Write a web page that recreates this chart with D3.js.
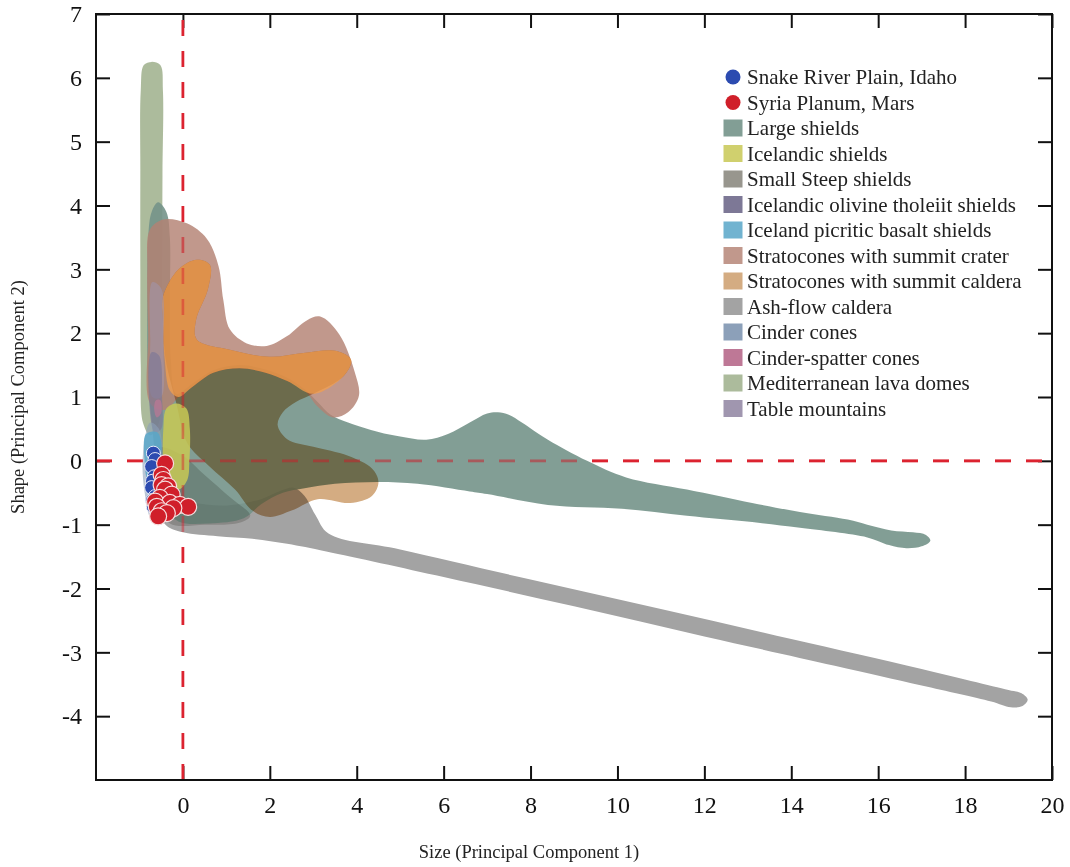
<!DOCTYPE html>
<html>
<head>
<meta charset="utf-8">
<script src="https://cdn.jsdelivr.net/npm/d3@7/dist/d3.min.js"></script>
<style>
  html, body { margin: 0; padding: 0; background: #fff; }
  svg { display: block; }
  text { font-family: "Liberation Serif", "Times New Roman", serif; }
</style>
</head>
<body>
<svg id="chart" width="1070" height="867"></svg>
<script>
// Axis ticks
const xTicks = [0, 2, 4, 6, 8, 10, 12, 14, 16, 18, 20];
const yTicks = [-4, -3, -2, -1, 0, 1, 2, 3, 4, 5, 6, 7];

// Volcano-type fields in (size PC1, shape PC2) space: outline vertices
const ashFlowCaldera = [
  [-0.55, -0.75], [-0.4, -1.0], [0.0, -1.12], [0.8, -1.18], [1.6, -1.22], [2.4, -1.3],
  [3.3, -1.42], [6.0, -1.82], [9.0, -2.28], [12.0, -2.75], [15.0, -3.21], [17.0, -3.52],
  [18.6, -3.77], [19.05, -3.86], [19.32, -3.84], [19.44, -3.74], [19.3, -3.64], [19.0, -3.59],
  [17.0, -3.26], [14.0, -2.79], [11.0, -2.32], [8.0, -1.86], [5.0, -1.39], [3.35, -1.14],
  [3.05, -0.85], [2.8, -0.55], [2.55, -0.42], [2.25, -0.47], [1.8, -0.6], [1.0, -0.7],
  [0.2, -0.65], [-0.3, -0.55]
];
const largeShields = [
  [-0.57, 4.05], [-0.38, 3.9], [-0.3, 3.5], [-0.3, 2.5], [-0.28, 1.6], [-0.15, 1.05],
  [0.2, 1.2], [0.7, 1.42], [1.3, 1.5], [1.9, 1.43], [2.4, 1.3], [2.8, 1.12], [3.1, 0.92],
  [3.4, 0.72], [3.8, 0.6], [4.5, 0.45], [5.0, 0.38], [5.6, 0.33], [6.1, 0.42], [6.6, 0.6],
  [7.0, 0.74], [7.25, 0.76], [7.5, 0.72], [7.8, 0.6], [8.4, 0.33], [9.3, 0.0], [10.2, -0.26],
  [11.6, -0.45], [13.1, -0.66], [14.2, -0.8], [15.3, -0.92], [15.75, -1.0], [16.3, -1.09],
  [16.8, -1.12], [17.1, -1.16], [17.2, -1.25], [17.0, -1.34], [16.65, -1.37], [16.25, -1.32],
  [15.75, -1.2], [14.2, -1.05], [13.1, -0.96], [11.6, -0.86], [10.1, -0.75], [8.4, -0.69],
  [7.0, -0.52], [6.6, -0.48], [5.4, -0.36], [4.5, -0.33], [3.5, -0.36], [2.8, -0.43],
  [2.3, -0.5], [1.8, -0.68], [1.4, -0.9], [0.6, -0.98], [-0.1, -0.95], [-0.45, -0.7],
  [-0.6, -0.2], [-0.7, 0.5], [-0.8, 1.2], [-0.82, 2.5], [-0.8, 3.5], [-0.72, 3.9]
];
const mediterraneanLavaDomes = [
  [-0.72, 6.25], [-0.52, 6.2], [-0.46, 5.8], [-0.47, 4.5], [-0.48, 3.0], [-0.5, 1.5],
  [-0.55, 0.6], [-0.75, 0.4], [-0.92, 0.6], [-0.97, 1.5], [-0.98, 3.0], [-0.98, 4.5],
  [-0.97, 5.8], [-0.9, 6.2]
];
const tableMountains = [
  [-0.7, 2.8], [-0.5, 2.7], [-0.45, 1.8], [-0.5, 1.0], [-0.7, 1.0], [-0.75, 1.9]
];
const icelandicOlivineTholeiitShields = [
  [-0.72, 1.7], [-0.55, 1.65], [-0.48, 1.0], [-0.5, 0.5], [-0.65, 0.45], [-0.78, 1.0]
];
const stratoconesSummitCrater = [
  [-0.76, 3.62], [-0.45, 3.78], [0.09, 3.72], [0.55, 3.48], [0.82, 3.05], [0.93, 2.52],
  [1.08, 2.06], [1.47, 1.84], [1.93, 1.8], [2.39, 1.95], [2.85, 2.2], [3.16, 2.26],
  [3.6, 1.98], [3.95, 1.4], [4.05, 1.02], [3.8, 0.76], [3.45, 0.68], [3.1, 0.85],
  [2.8, 1.1], [2.4, 1.25], [1.9, 1.38], [1.3, 1.45], [0.7, 1.38], [0.2, 1.15],
  [-0.1, 1.0], [-0.4, 0.8], [-0.75, 0.9], [-0.8, 2.0], [-0.82, 3.0]
];
const smallSteepShields = [
  [-0.6, 0.2], [-0.05, 0.1], [0.5, -0.22], [1.1, -0.58], [1.55, -0.86], [1.3, -0.97],
  [0.5, -1.0], [-0.3, -0.98], [-0.6, -0.6]
];
const stratoconesSummitCaldera = [
  [-0.46, 2.57], [-0.1, 3.0], [0.32, 3.15], [0.62, 3.07], [0.58, 2.7], [0.3, 2.2],
  [0.32, 1.9], [1.08, 1.74], [2.0, 1.63], [2.77, 1.69], [3.54, 1.72], [3.87, 1.58],
  [3.7, 1.33], [3.0, 1.05], [2.6, 0.92], [2.3, 0.76], [2.18, 0.56], [2.4, 0.34],
  [3.0, 0.22], [3.8, 0.08], [4.35, -0.12], [4.5, -0.33], [4.35, -0.55], [3.85, -0.66],
  [3.1, -0.6], [2.5, -0.78], [2.0, -0.88], [1.6, -0.78], [1.2, -0.45], [0.6, -0.08],
  [0.1, 0.28], [-0.15, 0.9], [-0.4, 1.6], [-0.46, 2.2]
];
const stratoconesSummitCalderaUpper = [
  [-0.46, 2.57], [-0.1, 3.0], [0.32, 3.15], [0.62, 3.07], [0.58, 2.7], [0.3, 2.2],
  [0.32, 1.9], [1.08, 1.74], [2.0, 1.63], [2.77, 1.69], [3.54, 1.72], [3.87, 1.58],
  [3.7, 1.33], [3.0, 1.05], [2.4, 1.25], [1.9, 1.38], [1.3, 1.45], [0.7, 1.38],
  [0.2, 1.15], [-0.1, 1.0], [-0.3, 1.1], [-0.42, 1.6], [-0.46, 2.2]
];
const cinderCones = [
  [-0.75, 0.6], [-0.55, 0.5], [-0.45, 0.0], [-0.35, -0.6], [-0.45, -0.98], [-0.7, -0.95],
  [-0.88, -0.5], [-0.92, 0.1]
];
const cinderSpatterCones = [
  [-0.62, 0.95], [-0.52, 0.95], [-0.5, 0.75], [-0.6, 0.68], [-0.66, 0.8]
];
const icelandPicriticBasaltShields = [
  [-0.85, 0.42], [-0.6, 0.45], [-0.5, 0.3], [-0.52, 0.0], [-0.6, -0.3], [-0.8, -0.3], [-0.88, 0.0]
];
const icelandicShields = [
  [-0.15, 0.9], [0.08, 0.82], [0.16, 0.5], [0.15, 0.0], [0.1, -0.3], [-0.1, -0.45],
  [-0.35, -0.35], [-0.45, 0.0], [-0.45, 0.5], [-0.38, 0.82]
];

// Measured volcanoes
const snakeRiverPlain = [
  [-0.68, 0.12], [-0.64, 0.02], [-0.72, -0.09], [-0.66, -0.25], [-0.7, -0.32], [-0.72, -0.42],
  [-0.64, -0.56], [-0.7, -0.62], [-0.68, -0.72], [-0.6, -0.87]
];
const syriaPlanum = [
  [-0.41, -0.04], [-0.49, -0.22], [-0.45, -0.3], [-0.49, -0.38], [-0.34, -0.4], [-0.41, -0.45],
  [-0.26, -0.53], [-0.53, -0.58], [-0.64, -0.64], [-0.3, -0.66], [-0.07, -0.69], [-0.6, -0.72],
  [0.12, -0.72], [-0.22, -0.74], [-0.49, -0.79], [-0.37, -0.82], [-0.57, -0.87]
];

// Legend entries
const legendLabels = [
  "Snake River Plain, Idaho", "Syria Planum, Mars", "Large shields", "Icelandic shields",
  "Small Steep shields", "Icelandic olivine tholeiit shields", "Iceland picritic basalt shields",
  "Stratocones with summit crater", "Stratocones with summit caldera", "Ash-flow caldera",
  "Cinder cones", "Cinder-spatter cones", "Mediterranean lava domes", "Table mountains"
];

// ---- styles ----
const colors = {
  "Snake River Plain, Idaho": "#2c4bb0",
  "Syria Planum, Mars": "#d01f2a",
  "Large shields": "#74948a",
  "Icelandic shields": "#c8c855",
  "Small Steep shields": "#98968e",
  "Icelandic olivine tholeiit shields": "#7d7896",
  "Iceland picritic basalt shields": "#58a6c8",
  "Stratocones with summit crater": "#b38173",
  "Stratocones with summit caldera": "#d4ac82",
  "Ash-flow caldera": "#a3a3a3",
  "Cinder cones": "#8ca0b9",
  "Cinder-spatter cones": "#be7896",
  "Mediterranean lava domes": "#a5b594",
  "Table mountains": "#a096af"
};

// drawing order, back to front
const fields = [
  { name: "Ash-flow caldera", pts: ashFlowCaldera, blend: "normal", op: 1 },
  { name: "Mediterranean lava domes", pts: mediterraneanLavaDomes, blend: "normal", op: 0.92 },
  { name: "Large shields", pts: largeShields, blend: "normal", op: 0.9 },
  { name: "Small Steep shields", pts: smallSteepShields, blend: "multiply", op: 0.4 },
  { name: "Stratocones with summit crater", pts: stratoconesSummitCrater, blend: "normal", op: 0.82 },
  { name: "Stratocones with summit caldera", pts: stratoconesSummitCaldera, blend: "multiply", op: 1 },
  { name: "Stratocones with summit caldera", pts: stratoconesSummitCalderaUpper, blend: "normal", op: 0.75, fill: "#f39f4c" },
  { name: "Table mountains", pts: tableMountains, blend: "normal", op: 0.55 },
  { name: "Icelandic olivine tholeiit shields", pts: icelandicOlivineTholeiitShields, blend: "normal", op: 0.65 },
  { name: "Cinder cones", pts: cinderCones, blend: "normal", op: 0.6 },
  { name: "Cinder-spatter cones", pts: cinderSpatterCones, blend: "normal", op: 0.7 },
  { name: "Iceland picritic basalt shields", pts: icelandPicriticBasaltShields, blend: "normal", op: 0.85 },
  { name: "Icelandic shields", pts: icelandicShields, blend: "normal", op: 0.85 }
];
// legend swatch opacity: translucent fields keep their own opacity, faint ones show full colour
const swatchOpacity = {};
fields.forEach(f => { if (!(f.name in swatchOpacity)) swatchOpacity[f.name] = f.op >= 0.8 ? f.op : 1; });

const svg = d3.select("#chart");
const W = 1070, H = 867;
const x = d3.scaleLinear().domain([-2, 20]).range([96, 1052]);
const y = d3.scaleLinear().domain([-5, 7]).range([780, 14]);

svg.append("rect").attr("width", W).attr("height", H).attr("fill", "#fff");

// axes with inward ticks
const tickLen = 14;
const axisStyle = g => {
  g.select(".domain").remove();
  g.selectAll(".tick line").attr("stroke", "#111").attr("stroke-width", 2);
  g.selectAll(".tick text").attr("fill", "#111").attr("font-size", 24)
    .attr("font-family", "Liberation Serif, serif");
};
const plain = d => String(d);
svg.append("g").attr("transform", `translate(${x.range()[0]},0)`)
  .call(d3.axisLeft(y).tickValues(yTicks).tickSize(-tickLen).tickPadding(14).tickFormat(plain))
  .call(axisStyle);
svg.append("g").attr("transform", `translate(${x.range()[1]},0)`)
  .call(d3.axisRight(y).tickValues(yTicks).tickSize(-tickLen).tickFormat(""))
  .call(axisStyle);
svg.append("g").attr("transform", `translate(0,${y.range()[0]})`)
  .call(d3.axisBottom(x).tickValues(xTicks).tickSize(-tickLen).tickPadding(16).tickFormat(plain))
  .call(axisStyle);
svg.append("g").attr("transform", `translate(0,${y.range()[1]})`)
  .call(d3.axisTop(x).tickValues(xTicks).tickSize(-tickLen).tickFormat(""))
  .call(axisStyle);

// zero reference lines
function refLines(g) {
  g.attr("stroke", "#dc2430").attr("stroke-width", 2.6)
    .attr("stroke-dasharray", "16,15").attr("fill", "none");
  g.append("line").attr("x1", x.range()[0]).attr("x2", x.range()[1]).attr("y1", y(0)).attr("y2", y(0));
  g.append("line").attr("x1", x(0)).attr("x2", x(0)).attr("y1", y.range()[0]).attr("y2", y.range()[1]);
}
svg.append("g").call(refLines);

// fields
const outline = d3.line().x(d => x(d[0])).y(d => y(d[1]))
  .curve(d3.curveCatmullRomClosed.alpha(0.5));
const fieldLayer = svg.append("g");
fieldLayer.selectAll("path").data(fields).join("path")
  .attr("d", d => outline(d.pts))
  .attr("fill", d => d.fill || colors[d.name])
  .attr("fill-opacity", d => d.op)
  .style("mix-blend-mode", d => d.blend);

// reference lines show faintly through the fields
svg.append("g").attr("opacity", 0.45).call(refLines);

// points
const pts = svg.append("g");
pts.selectAll("circle.srp").data(snakeRiverPlain).join("circle").attr("class", "srp")
  .attr("cx", d => x(d[0])).attr("cy", d => y(d[1])).attr("r", 7)
  .attr("fill", colors["Snake River Plain, Idaho"]).attr("stroke", "#e8ecf8").attr("stroke-width", 1);
pts.selectAll("circle.sp").data(syriaPlanum).join("circle").attr("class", "sp")
  .attr("cx", d => x(d[0])).attr("cy", d => y(d[1])).attr("r", 8.5)
  .attr("fill", colors["Syria Planum, Mars"]).attr("stroke", "#f6dede").attr("stroke-width", 1.2);

// frame
svg.append("rect").attr("x", x.range()[0]).attr("y", y.range()[1])
  .attr("width", x.range()[1] - x.range()[0]).attr("height", y.range()[0] - y.range()[1])
  .attr("fill", "none").attr("stroke", "#111").attr("stroke-width", 2);

// axis titles
svg.append("text").attr("x", 529).attr("y", 858)
  .attr("text-anchor", "middle").attr("font-size", 18.5).attr("fill", "#222")
  .text("Size (Principal Component 1)");
svg.append("text").attr("transform", `translate(24,${(y.range()[0] + y.range()[1]) / 2}) rotate(-90)`)
  .attr("text-anchor", "middle").attr("font-size", 18.5).attr("fill", "#222")
  .text("Shape (Principal Component 2)");

// legend
const lg = svg.append("g").attr("transform", "translate(733,77)");
const rowH = 25.5;
const rows = lg.selectAll("g").data(legendLabels).join("g")
  .attr("transform", (d, i) => `translate(0,${i * rowH})`);
rows.filter((d, i) => i < 2).append("circle").attr("r", 7.5)
  .attr("fill", d => colors[d]);
rows.filter((d, i) => i >= 2).append("rect").attr("x", -9.5).attr("y", -8.5)
  .attr("width", 19).attr("height", 17).attr("fill", d => colors[d])
  .attr("fill-opacity", d => swatchOpacity[d]);
rows.append("text").attr("x", 14).attr("dy", "0.35em").attr("font-size", 21)
  .attr("fill", "#222").text(d => d);
</script>
</body>
</html>
